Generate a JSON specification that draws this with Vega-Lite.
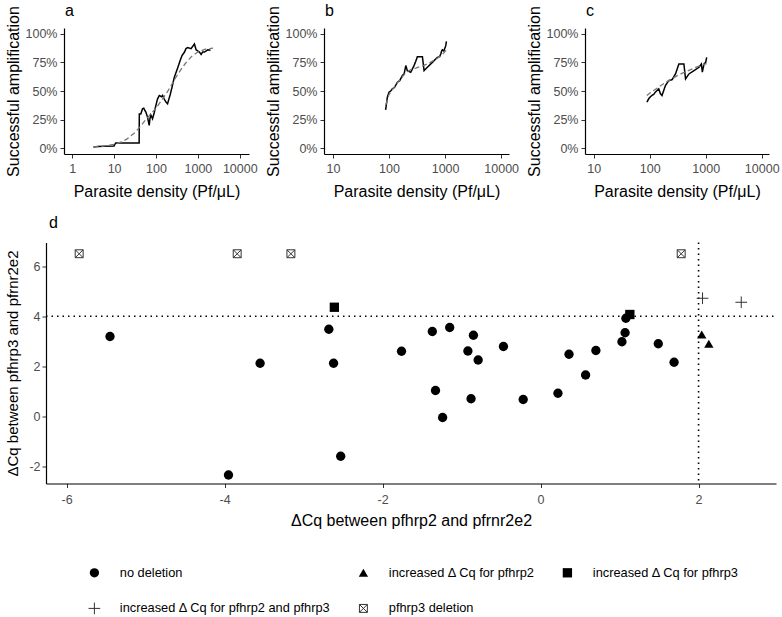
{
  "$schema": "https://vega.github.io/schema/vega-lite/v6.json",
  "padding": {"left": 4, "top": 2, "right": 2, "bottom": 0},
  "config": {
    "view": {"stroke": null},
    "font": "Liberation Sans",
    "axis": {"grid": false, "domainColor": "black", "domainWidth": 1.2, "tickColor": "#333", "tickSize": 4, "tickWidth": 1, "labelColor": "#4d4d4d", "titleColor": "black", "titleFontWeight": "normal", "labelFlush": false, "labelOverlap": false, "labelBound": false},
    "title": {"fontWeight": "normal", "fontSize": 16, "color": "black", "anchor": "start", "frame": "group", "baseline": "alphabetic"}
  },
  "datasets": {
    "a_obs": [
      {"density": 3.2, "amplification": 0.01}, {"density": 4, "amplification": 0.015}, {"density": 6, "amplification": 0.018},
      {"density": 9.96, "amplification": 0.02}, {"density": 10.9, "amplification": 0.046}, {"density": 20, "amplification": 0.046},
      {"density": 39.6, "amplification": 0.046}, {"density": 40, "amplification": 0.3}, {"density": 43.4, "amplification": 0.3},
      {"density": 47.6, "amplification": 0.345}, {"density": 51, "amplification": 0.35}, {"density": 54.2, "amplification": 0.33},
      {"density": 57.3, "amplification": 0.316}, {"density": 62.8, "amplification": 0.272}, {"density": 68.8, "amplification": 0.2},
      {"density": 72, "amplification": 0.26}, {"density": 75.4, "amplification": 0.29}, {"density": 82.7, "amplification": 0.258},
      {"density": 90.7, "amplification": 0.31}, {"density": 99.5, "amplification": 0.374}, {"density": 109, "amplification": 0.432},
      {"density": 120, "amplification": 0.461}, {"density": 135, "amplification": 0.45}, {"density": 144, "amplification": 0.461},
      {"density": 157, "amplification": 0.43}, {"density": 173, "amplification": 0.403}, {"density": 189, "amplification": 0.388},
      {"density": 200, "amplification": 0.42}, {"density": 219, "amplification": 0.47}, {"density": 236, "amplification": 0.519},
      {"density": 274, "amplification": 0.62}, {"density": 329, "amplification": 0.7}, {"density": 381, "amplification": 0.77},
      {"density": 418, "amplification": 0.81}, {"density": 475, "amplification": 0.838}, {"density": 521, "amplification": 0.87},
      {"density": 571, "amplification": 0.88}, {"density": 687, "amplification": 0.87}, {"density": 826, "amplification": 0.91},
      {"density": 906, "amplification": 0.86}, {"density": 1089, "amplification": 0.84}, {"density": 1194, "amplification": 0.82},
      {"density": 1300, "amplification": 0.84}, {"density": 1435, "amplification": 0.84}, {"density": 1725, "amplification": 0.86},
      {"density": 2000, "amplification": 0.855}
    ],
    "a_fit": [
      {"density": 3.2, "amplification": 0.012}, {"density": 5, "amplification": 0.017}, {"density": 7, "amplification": 0.024},
      {"density": 10, "amplification": 0.035}, {"density": 15, "amplification": 0.055}, {"density": 20, "amplification": 0.08},
      {"density": 30, "amplification": 0.13}, {"density": 40, "amplification": 0.18}, {"density": 60, "amplification": 0.26},
      {"density": 80, "amplification": 0.31}, {"density": 100, "amplification": 0.35}, {"density": 150, "amplification": 0.44},
      {"density": 200, "amplification": 0.51}, {"density": 300, "amplification": 0.62}, {"density": 400, "amplification": 0.69},
      {"density": 500, "amplification": 0.74}, {"density": 700, "amplification": 0.8}, {"density": 1000, "amplification": 0.84},
      {"density": 1500, "amplification": 0.865}, {"density": 2300, "amplification": 0.875}
    ],
    "b_obs": [
      {"density": 87, "amplification": 0.336}, {"density": 93.4, "amplification": 0.446}, {"density": 100, "amplification": 0.49},
      {"density": 107, "amplification": 0.5}, {"density": 114.6, "amplification": 0.519}, {"density": 125, "amplification": 0.53},
      {"density": 141, "amplification": 0.577}, {"density": 155, "amplification": 0.59}, {"density": 173, "amplification": 0.635},
      {"density": 186, "amplification": 0.65}, {"density": 199, "amplification": 0.722}, {"density": 212, "amplification": 0.678},
      {"density": 244, "amplification": 0.663}, {"density": 279, "amplification": 0.722}, {"density": 300, "amplification": 0.76},
      {"density": 320, "amplification": 0.8}, {"density": 394, "amplification": 0.8}, {"density": 422, "amplification": 0.678},
      {"density": 483, "amplification": 0.707}, {"density": 593, "amplification": 0.75}, {"density": 729, "amplification": 0.794},
      {"density": 800, "amplification": 0.8}, {"density": 837, "amplification": 0.823}, {"density": 870, "amplification": 0.85},
      {"density": 895, "amplification": 0.86}, {"density": 950, "amplification": 0.85}, {"density": 1028, "amplification": 0.896},
      {"density": 1055, "amplification": 0.933}
    ],
    "b_fit": [
      {"density": 88, "amplification": 0.38}, {"density": 100, "amplification": 0.47}, {"density": 130, "amplification": 0.55},
      {"density": 170, "amplification": 0.62}, {"density": 200, "amplification": 0.66}, {"density": 250, "amplification": 0.69},
      {"density": 300, "amplification": 0.7}, {"density": 400, "amplification": 0.72}, {"density": 500, "amplification": 0.74},
      {"density": 700, "amplification": 0.78}, {"density": 900, "amplification": 0.82}, {"density": 1060, "amplification": 0.86}
    ],
    "c_obs": [
      {"density": 89.4, "amplification": 0.403}, {"density": 95.9, "amplification": 0.432}, {"density": 103, "amplification": 0.45},
      {"density": 110, "amplification": 0.461}, {"density": 118, "amplification": 0.47}, {"density": 126, "amplification": 0.49},
      {"density": 145, "amplification": 0.519}, {"density": 155, "amplification": 0.478}, {"density": 166, "amplification": 0.461},
      {"density": 180, "amplification": 0.51}, {"density": 191, "amplification": 0.548}, {"density": 219, "amplification": 0.59},
      {"density": 252, "amplification": 0.6}, {"density": 289, "amplification": 0.649}, {"density": 332, "amplification": 0.736},
      {"density": 408, "amplification": 0.736}, {"density": 437, "amplification": 0.606}, {"density": 502, "amplification": 0.649},
      {"density": 618, "amplification": 0.678}, {"density": 760, "amplification": 0.707}, {"density": 837, "amplification": 0.736},
      {"density": 871, "amplification": 0.664}, {"density": 935, "amplification": 0.736}, {"density": 1000, "amplification": 0.75},
      {"density": 1042, "amplification": 0.794}
    ],
    "c_fit": [
      {"density": 89, "amplification": 0.46}, {"density": 100, "amplification": 0.48}, {"density": 150, "amplification": 0.54},
      {"density": 200, "amplification": 0.58}, {"density": 300, "amplification": 0.63}, {"density": 400, "amplification": 0.66},
      {"density": 500, "amplification": 0.68}, {"density": 700, "amplification": 0.71}, {"density": 900, "amplification": 0.73},
      {"density": 1040, "amplification": 0.74}
    ],
    "d_pts": [
      {"dcq_hrp2": -5.45, "dcq_hrp3": 3.19, "category": "no deletion"},
      {"dcq_hrp2": -3.55, "dcq_hrp3": 2.12, "category": "no deletion"},
      {"dcq_hrp2": -2.68, "dcq_hrp3": 3.48, "category": "no deletion"},
      {"dcq_hrp2": -2.62, "dcq_hrp3": 2.12, "category": "no deletion"},
      {"dcq_hrp2": -1.76, "dcq_hrp3": 2.6, "category": "no deletion"},
      {"dcq_hrp2": -1.37, "dcq_hrp3": 3.39, "category": "no deletion"},
      {"dcq_hrp2": -1.15, "dcq_hrp3": 3.55, "category": "no deletion"},
      {"dcq_hrp2": -0.85, "dcq_hrp3": 3.24, "category": "no deletion"},
      {"dcq_hrp2": -0.92, "dcq_hrp3": 2.61, "category": "no deletion"},
      {"dcq_hrp2": -0.79, "dcq_hrp3": 2.25, "category": "no deletion"},
      {"dcq_hrp2": -0.47, "dcq_hrp3": 2.79, "category": "no deletion"},
      {"dcq_hrp2": -1.33, "dcq_hrp3": 1.03, "category": "no deletion"},
      {"dcq_hrp2": -0.88, "dcq_hrp3": 0.7, "category": "no deletion"},
      {"dcq_hrp2": -1.24, "dcq_hrp3": -0.05, "category": "no deletion"},
      {"dcq_hrp2": -0.22, "dcq_hrp3": 0.67, "category": "no deletion"},
      {"dcq_hrp2": 0.22, "dcq_hrp3": 0.92, "category": "no deletion"},
      {"dcq_hrp2": 0.36, "dcq_hrp3": 2.48, "category": "no deletion"},
      {"dcq_hrp2": 0.57, "dcq_hrp3": 1.65, "category": "no deletion"},
      {"dcq_hrp2": 0.7, "dcq_hrp3": 2.63, "category": "no deletion"},
      {"dcq_hrp2": 1.03, "dcq_hrp3": 2.98, "category": "no deletion"},
      {"dcq_hrp2": 1.07, "dcq_hrp3": 3.34, "category": "no deletion"},
      {"dcq_hrp2": 1.49, "dcq_hrp3": 2.9, "category": "no deletion"},
      {"dcq_hrp2": 1.69, "dcq_hrp3": 2.16, "category": "no deletion"},
      {"dcq_hrp2": -2.53, "dcq_hrp3": -1.6, "category": "no deletion"},
      {"dcq_hrp2": -3.95, "dcq_hrp3": -2.35, "category": "no deletion"},
      {"dcq_hrp2": -2.61, "dcq_hrp3": 4.36, "category": "increased Δ Cq for pfhrp3"},
      {"dcq_hrp2": 1.13, "dcq_hrp3": 4.07, "category": "increased Δ Cq for pfhrp3"},
      {"dcq_hrp2": 1.08, "dcq_hrp3": 3.92, "category": "no deletion"},
      {"dcq_hrp2": 2.04, "dcq_hrp3": 3.27, "category": "increased Δ Cq for pfhrp2"},
      {"dcq_hrp2": 2.13, "dcq_hrp3": 2.9, "category": "increased Δ Cq for pfhrp2"},
      {"dcq_hrp2": 2.05, "dcq_hrp3": 4.72, "category": "increased Δ Cq for pfhrp2 and pfhrp3"},
      {"dcq_hrp2": 2.54, "dcq_hrp3": 4.56, "category": "increased Δ Cq for pfhrp2 and pfhrp3"},
      {"dcq_hrp2": -5.84, "dcq_hrp3": 6.5, "category": "pfhrp3 deletion"},
      {"dcq_hrp2": -3.84, "dcq_hrp3": 6.5, "category": "pfhrp3 deletion"},
      {"dcq_hrp2": -3.16, "dcq_hrp3": 6.5, "category": "pfhrp3 deletion"},
      {"dcq_hrp2": 1.78, "dcq_hrp3": 6.5, "category": "pfhrp3 deletion"}
    ]
  },
  "spacing": 14.5,
  "vconcat": [
    {
      "spacing": 6,
      "hconcat": [
        {
          "width": 185, "height": 126,
          "title": {"text": "a", "offset": -13, "dx": 1},
          "layer": [
            {"data": {"name": "a_obs"}, "mark": {"type": "line", "color": "black", "strokeWidth": 1.5},
             "encoding": {
               "x": {"field": "density", "type": "quantitative", "scale": {"type": "log", "domain": [0.637, 16600], "nice": false},
                     "axis": {"values": [1, 10, 100, 1000, 10000], "tickCount": 10, "format": "d", "labelFontSize": 12.5, "labelPadding": 4, "labelOverlap": false, "title": "Parasite density (Pf/μL)", "titleFontSize": 16, "titlePadding": 9}},
               "y": {"field": "amplification", "type": "quantitative", "scale": {"domain": [-0.05, 1.05], "nice": false, "zero": false},
                     "axis": {"values": [0, 0.25, 0.5, 0.75, 1], "tickCount": 10, "format": ".0%", "labelFontSize": 12.5, "labelPadding": 3, "labelOverlap": false, "title": "Successful amplification", "titleFontSize": 16, "titlePadding": 5, "minExtent": 38, "maxExtent": 38}}
             }},
            {"data": {"name": "a_fit"}, "mark": {"type": "line", "color": "#777", "strokeWidth": 1.3, "strokeDash": [5, 3]},
             "encoding": {
               "x": {"field": "density", "type": "quantitative"},
               "y": {"field": "amplification", "type": "quantitative"}
             }}
          ]
        },
        {
          "width": 185, "height": 126,
          "title": {"text": "b", "offset": -13, "dx": 1},
          "layer": [
            {"data": {"name": "b_obs"}, "mark": {"type": "line", "color": "black", "strokeWidth": 1.5},
             "encoding": {
               "x": {"field": "density", "type": "quantitative", "scale": {"type": "log", "domain": [6.92, 13800], "nice": false},
                     "axis": {"values": [10, 100, 1000, 10000], "tickCount": 10, "format": "d", "labelFontSize": 12.5, "labelPadding": 4, "labelOverlap": false, "title": "Parasite density (Pf/μL)", "titleFontSize": 16, "titlePadding": 9}},
               "y": {"field": "amplification", "type": "quantitative", "scale": {"domain": [-0.05, 1.05], "nice": false, "zero": false},
                     "axis": {"values": [0, 0.25, 0.5, 0.75, 1], "tickCount": 10, "format": ".0%", "labelFontSize": 12.5, "labelPadding": 3, "labelOverlap": false, "title": "Successful amplification", "titleFontSize": 16, "titlePadding": 5, "minExtent": 38, "maxExtent": 38}}
             }},
            {"data": {"name": "b_fit"}, "mark": {"type": "line", "color": "#777", "strokeWidth": 1.3, "strokeDash": [5, 3]},
             "encoding": {
               "x": {"field": "density", "type": "quantitative"},
               "y": {"field": "amplification", "type": "quantitative"}
             }}
          ]
        },
        {
          "width": 184, "height": 126,
          "title": {"text": "c", "offset": -13, "dx": 1},
          "layer": [
            {"data": {"name": "c_obs"}, "mark": {"type": "line", "color": "black", "strokeWidth": 1.5},
             "encoding": {
               "x": {"field": "density", "type": "quantitative", "scale": {"type": "log", "domain": [7.0, 13500], "nice": false},
                     "axis": {"values": [10, 100, 1000, 10000], "tickCount": 10, "format": "d", "labelFontSize": 12.5, "labelPadding": 4, "labelOverlap": false, "title": "Parasite density (Pf/μL)", "titleFontSize": 16, "titlePadding": 9}},
               "y": {"field": "amplification", "type": "quantitative", "scale": {"domain": [-0.05, 1.05], "nice": false, "zero": false},
                     "axis": {"values": [0, 0.25, 0.5, 0.75, 1], "tickCount": 10, "format": ".0%", "labelFontSize": 12.5, "labelPadding": 3, "labelOverlap": false, "title": "Successful amplification", "titleFontSize": 16, "titlePadding": 5, "minExtent": 38, "maxExtent": 38}}
             }},
            {"data": {"name": "c_fit"}, "mark": {"type": "line", "color": "#777", "strokeWidth": 1.3, "strokeDash": [5, 3]},
             "encoding": {
               "x": {"field": "density", "type": "quantitative"},
               "y": {"field": "amplification", "type": "quantitative"}
             }}
          ]
        }
      ]
    },
    {
      "width": 712, "height": 241,
      "title": {"text": "d", "offset": 11, "dx": -15},
      "layer": [
        {"data": {"values": [{"threshold": 4, "from": -6.26, "to": 2.98}]}, "mark": {"type": "rule", "color": "black", "strokeWidth": 1.6, "strokeDash": [1.5, 4]},
         "encoding": {
           "y": {"field": "threshold", "type": "quantitative", "scale": {"domain": [-2.69, 6.95], "nice": false, "zero": false}, "axis": {"values": [-2, 0, 2, 4, 6], "tickCount": 10, "offset": 18, "labelExpr": "'' + datum.value", "labelFontSize": 12.5, "labelPadding": 2, "title": "ΔCq between pfhrp3 and pfrnr2e2", "titleFontSize": 15, "titlePadding": 9, "minExtent": 17, "maxExtent": 17}},
           "x": {"field": "from", "type": "quantitative", "scale": {"domain": [-6.26, 2.98], "range": [-18, 712], "nice": false, "zero": false}, "axis": {"values": [-6, -4, -2, 0, 2], "tickCount": 10, "labelExpr": "'' + datum.value", "labelFontSize": 12.5, "labelPadding": 6, "title": "ΔCq between pfhrp2 and pfrnr2e2", "titleFontSize": 16, "titlePadding": 6}},
           "x2": {"field": "to"}
         }},
        {"data": {"values": [{"threshold": 2}]}, "mark": {"type": "rule", "color": "black", "strokeWidth": 1.6, "strokeDash": [1.5, 4]},
         "encoding": {"x": {"field": "threshold", "type": "quantitative", "scale": {"domain": [-6.26, 2.98], "range": [-18, 712], "nice": false, "zero": false}, "axis": {"values": [-6, -4, -2, 0, 2], "tickCount": 10, "labelExpr": "'' + datum.value", "labelFontSize": 12.5, "labelPadding": 6, "title": "ΔCq between pfhrp2 and pfrnr2e2", "titleFontSize": 16, "titlePadding": 6}}}},
        {"data": {"name": "d_pts"}, "mark": {"type": "point", "size": 87, "strokeWidth": 1, "opacity": 1},
         "encoding": {
           "x": {"field": "dcq_hrp2", "type": "quantitative", "scale": {"domain": [-6.26, 2.98], "range": [-18, 712], "nice": false, "zero": false}, "axis": {"values": [-6, -4, -2, 0, 2], "tickCount": 10, "labelExpr": "'' + datum.value", "labelFontSize": 12.5, "labelPadding": 6, "title": "ΔCq between pfhrp2 and pfrnr2e2", "titleFontSize": 16, "titlePadding": 6}},
           "y": {"field": "dcq_hrp3", "type": "quantitative", "scale": {"domain": [-2.69, 6.95], "nice": false, "zero": false}, "axis": {"values": [-2, 0, 2, 4, 6], "tickCount": 10, "offset": 18, "labelExpr": "'' + datum.value", "labelFontSize": 12.5, "labelPadding": 2, "title": "ΔCq between pfhrp3 and pfrnr2e2", "titleFontSize": 15, "titlePadding": 9, "minExtent": 17, "maxExtent": 17}},
           "shape": {"field": "category", "type": "nominal",
             "scale": {"domain": ["no deletion", "increased Δ Cq for pfhrp2", "increased Δ Cq for pfhrp3", "increased Δ Cq for pfhrp2 and pfhrp3", "pfhrp3 deletion"],
                       "range": ["circle", "triangle-up", "square", "M-1.25,0H1.25M0,-1.25V1.25", "M-0.85,-0.85H0.85V0.85H-0.85ZM-0.85,-0.85L0.85,0.85M0.85,-0.85L-0.85,0.85"]},
             "legend": {"orient": "none", "legendX": 24, "legendY": 538, "columns": 3, "direction": "horizontal", "title": null, "labelFontSize": 12.8, "labelColor": "black", "labelOffset": 19, "labelLimit": 400, "columnPadding": 25, "rowPadding": 20, "symbolSize": 87, "symbolStrokeWidth": 1, "padding": 0}},
           "fill": {"field": "category", "type": "nominal",
             "scale": {"domain": ["no deletion", "increased Δ Cq for pfhrp2", "increased Δ Cq for pfhrp3", "increased Δ Cq for pfhrp2 and pfhrp3", "pfhrp3 deletion"],
                       "range": ["black", "black", "black", "transparent", "transparent"]}},
           "stroke": {"field": "category", "type": "nominal",
             "scale": {"domain": ["no deletion", "increased Δ Cq for pfhrp2", "increased Δ Cq for pfhrp3", "increased Δ Cq for pfhrp2 and pfhrp3", "pfhrp3 deletion"],
                       "range": ["transparent", "transparent", "transparent", "#333", "#333"]}}
         }}
      ]
    }
  ]
}
